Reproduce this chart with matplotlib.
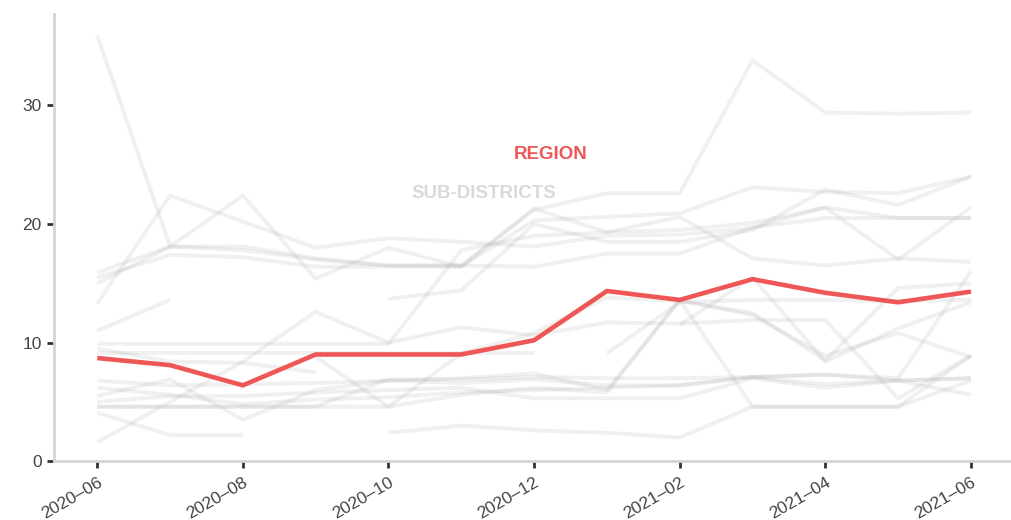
import numpy as np
import matplotlib
matplotlib.use('Agg')
import matplotlib.pyplot as plt

plt.rcParams['font.family'] = ['Liberation Sans', 'DejaVu Sans']

nan = np.nan

# bulan (indeks 0..12) dan label sumbu x
bulan = ['2020-06', '2020-07', '2020-08', '2020-09', '2020-10', '2020-11', '2020-12',
         '2021-01', '2021-02', '2021-03', '2021-04', '2021-05', '2021-06']
label_tick = ['2020\u201306', '2020\u201308', '2020\u201310', '2020\u201312',
              '2021\u201302', '2021\u201304', '2021\u201306']

# nilai region (garis merah)
region = [8.7, 8.1, 6.4, 9.0, 9.0, 9.0, 10.2, 14.35, 13.6, 15.35, 14.2, 13.4, 14.3]

# nilai sub-district (garis abu-abu), nan = data kosong
sub_districts = [
    [35.9, 18.1, 18.1, 17.1, 16.5, 16.5, 16.4, 17.5, 17.5, 19.7, 21.4, 20.5, 20.5],
    [13.3, 22.4, 20.2, 18.0, 18.8, 18.5, 18.1, 19.0, 19.1, 19.7, 20.5, 20.5, 20.5],
    [15.0, 18.1, 22.4, 15.4, 18.0, 16.4, 20.3, 20.6, 20.9, 23.1, 22.7, 22.6, 24.0],
    [15.9, 18.1, 17.8, 17.0, 16.5, 16.5, 21.2, 22.6, 22.6, 33.8, 29.4, 29.3, 29.4],
    [15.5, 17.4, 17.2, 16.4, 16.4, 16.4, 21.3, 19.3, 20.6, 17.1, 16.5, 17.1, 16.8],
    [nan, nan, nan, nan, 13.7, 14.4, 20.0, 18.5, 18.5, 19.5, 22.9, 21.6, 24.0],
    [9.9, 9.9, 9.9, 9.9, 9.9, 17.8, 19.0, 19.3, 19.5, 20.1, 21.4, 17.0, 21.4],
    [9.1, 9.1, 9.1, 9.1, 9.1, 9.1, 9.1, nan, nan, nan, nan, nan, nan],
    [9.5, 8.4, 8.3, 7.5, nan, nan, nan, nan, nan, nan, nan, nan, nan],
    [11.0, 13.6, nan, nan, nan, nan, nan, nan, nan, nan, nan, nan, nan],
    [1.6, 5.0, 8.4, 12.6, 10.0, 11.3, 10.6, 11.7, 11.6, 11.9, 11.9, 5.3, 8.9],
    [6.8, 6.4, 6.5, 6.6, 6.8, 6.6, 6.9, 6.4, 6.4, 7.1, 7.3, 6.8, 7.0],
    [5.5, 6.9, 3.5, 6.0, 6.8, 7.0, 7.4, 6.0, 13.6, 12.3, 8.9, 10.8, 8.8],
    [4.6, 4.6, 4.6, 4.6, 6.9, 6.9, 7.1, 7.0, 7.0, 7.1, 6.5, 6.8, 7.0],
    [4.1, 2.2, 2.2, nan, nan, nan, nan, nan, nan, nan, nan, nan, nan],
    [nan, nan, nan, nan, 2.4, 3.0, 2.6, 2.4, 2.0, 4.6, 4.6, 4.6, 6.8],
    [nan, nan, nan, nan, nan, nan, nan, 9.1, 13.4, 13.6, 13.6, 13.5, 13.6],
    [nan, nan, nan, nan, nan, nan, nan, nan, 11.5, 15.5, 8.4, 11.2, 13.4],
    [5.0, 5.5, 5.5, 5.8, 6.0, 6.2, 5.3, 5.3, 5.3, 7.0, 6.2, 6.8, 5.6],
    [6.2, 5.6, 4.8, 5.2, 5.4, 5.8, 6.0, 6.2, 6.4, 7.1, 7.3, 7.0, 16.0],
    [nan, nan, nan, 8.8, 4.6, 9.1, 10.8, 13.8, 13.5, 12.5, 8.5, 14.6, 15.0],
    [4.6, 4.6, 4.6, 4.6, 4.6, 5.6, 6.2, 5.8, 13.6, 4.6, 4.6, 4.6, 8.9],
]

x = np.arange(len(bulan))

fig = plt.figure(figsize=(10.11, 5.2), dpi=100)
ax = fig.add_axes([0.053, 0.113, 0.947, 0.86])

for s in sub_districts:
    ax.plot(x, s, color='#a8a8a8', alpha=0.17, linewidth=2.8, solid_capstyle='butt')

ax.plot(x, region, color='#ef5656', linewidth=3.3, solid_capstyle='butt')

ax.text(6.23, 25.9, 'REGION', color='#ef5656', fontsize=13.5, fontweight='bold',
        ha='center', va='center')
ax.text(5.31, 22.6, 'SUB-DISTRICTS', color='#d9d9d9', fontsize=13.5, fontweight='bold',
        ha='center', va='center')

ax.set_xlim(-0.6, 12.55)
ax.set_ylim(0, 37.7)
ax.set_xticks(x[::2])
ax.set_xticklabels(label_tick, rotation=30, ha='right', rotation_mode='anchor')
ax.set_yticks([0, 10, 20, 30])

for sisi in ['top', 'right']:
    ax.spines[sisi].set_visible(False)
for sisi in ['left', 'bottom']:
    ax.spines[sisi].set_color('#d4d4d4')
    ax.spines[sisi].set_linewidth(2)

ax.tick_params(axis='both', colors='#333333', width=2, length=5, labelsize=12.5,
               labelcolor='#444444')
ax.tick_params(axis='x', pad=5)

plt.savefig('out.png', dpi=100)
